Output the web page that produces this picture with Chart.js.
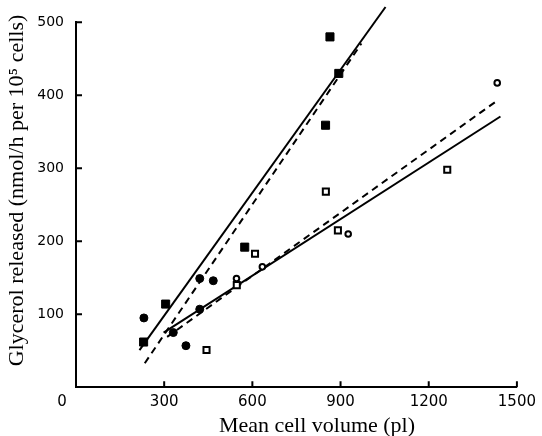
<!DOCTYPE html>
<html>
<head>
<meta charset="UTF-8">
<title>Glycerol released vs cell volume</title>
<script src="https://cdn.jsdelivr.net/npm/chart.js"></script>
<style>
  html, body { margin: 0; padding: 0; background: #fff; }
  #wrap { width: 542px; height: 436px; }
</style>
</head>
<body>
<div id="wrap"><canvas id="myChart"></canvas></div>
<script>
// filled squares
const fsqX = [230, 305, 574, 849, 864, 894];
const fsqY = [62, 114, 192, 359, 480, 430];
// filled circles
const fciX = [231, 331, 374, 421, 421, 467];
const fciY = [95, 75, 57, 107, 149, 146];
// open circles
const ociX = [546, 634, 926, 1433];
const ociY = [149, 165, 210, 417];
// open squares
const osqX = [444, 547, 609, 850, 891, 1263];
const osqY = [51, 140, 183, 268, 215, 298];

// fitted lines (end points)
const steepSolidX = [216, 1053];
const steepSolidY = [51, 521];
const steepDashX = [234, 971];
const steepDashY = [33, 471];
const flatSolidX = [298, 1444];
const flatSolidY = [75, 371];
const flatDashX = [310, 1427];
const flatDashY = [69, 391];

const xTicks = [300, 600, 900, 1200, 1500];
const yTicks = [100, 200, 300, 400, 500];

const xTitle = 'Mean cell volume (pl)';
const yTitle = 'Glycerol released (nmol/h per 10\u2075 cells)';

function pts(xs, ys) {
    return xs.map((v, i) => ({ x: v, y: ys[i] }));
}

const xTickFont = { family: 'DejaVu Sans', size: 15 };
const yTickFont = { family: 'DejaVu Sans', size: 14 };
const titleFont = '22px "Liberation Serif"';

const decor = {
    id: 'decor',
    afterDraw(chart) {
        const ctx = chart.ctx;
        const area = chart.chartArea;
        const x = chart.scales.x, y = chart.scales.y;
        ctx.save();
        // inward tick marks
        ctx.strokeStyle = '#000';
        ctx.lineWidth = 2;
        ctx.beginPath();
        for (var i = 0; i < xTicks.length; i++) {
            const px = x.getPixelForValue(xTicks[i]);
            ctx.moveTo(px, area.bottom);
            ctx.lineTo(px, area.bottom - 6);
        }
        for (var i = 0; i < yTicks.length; i++) {
            const py = y.getPixelForValue(yTicks[i]);
            ctx.moveTo(area.left, py);
            ctx.lineTo(area.left + 6, py);
        }
        ctx.stroke();
        ctx.fillStyle = '#000';
        // the shared origin label
        ctx.font = xTickFont.size + 'px ' + xTickFont.family;
        ctx.textAlign = 'center';
        ctx.textBaseline = 'middle';
        ctx.fillText('0', area.left - 14, area.bottom + 15);
        // axis titles
        ctx.font = titleFont;
        ctx.textBaseline = 'alphabetic';
        ctx.fillText(xTitle, 317, 431.5);
        ctx.translate(23, 190.5);
        ctx.rotate(-Math.PI / 2);
        ctx.fillText(yTitle, 0, 0);
        ctx.restore();
    }
};

const ctx = document.getElementById('myChart');
new Chart(ctx, {
    type: 'scatter',
    data: {
        datasets: [
            { data: pts(fsqX, fsqY), pointStyle: 'rect', pointRadius: 5.7, backgroundColor: '#000', borderColor: '#000', borderWidth: 1 },
            { data: pts(fciX, fciY), pointStyle: 'circle', pointRadius: 4, backgroundColor: '#000', borderColor: '#000', borderWidth: 1 },
            { data: pts(ociX, ociY), pointStyle: 'circle', pointRadius: 2.8, backgroundColor: '#fff', borderColor: '#000', borderWidth: 2 },
            { data: pts(osqX, osqY), pointStyle: 'rect', pointRadius: 4.3, backgroundColor: '#fff', borderColor: '#000', borderWidth: 2 },
            { type: 'line', data: pts(steepSolidX, steepSolidY), borderColor: '#000', borderWidth: 2, pointRadius: 0, clip: false },
            { type: 'line', data: pts(steepDashX, steepDashY), borderColor: '#000', borderWidth: 2, borderDash: [7, 5], pointRadius: 0, clip: false },
            { type: 'line', data: pts(flatSolidX, flatSolidY), borderColor: '#000', borderWidth: 2, pointRadius: 0, clip: false },
            { type: 'line', data: pts(flatDashX, flatDashY), borderColor: '#000', borderWidth: 2, borderDash: [7, 5], pointRadius: 0, clip: false }
        ]
    },
    options: {
        responsive: true,
        maintainAspectRatio: false,
        animation: false,
        layout: { padding: { top: 22.3, right: 21.4, left: 0, bottom: 0 } },
        plugins: { legend: { display: false }, tooltip: { enabled: false } },
        scales: {
            x: {
                type: 'linear', min: 0, max: 1500,
                afterFit: function (s) { s.height = 48.7; },
                afterBuildTicks: function (s) { s.ticks = [0].concat(xTicks).map(v => ({ value: v })); },
                grid: { display: true, drawOnChartArea: false, drawTicks: false, color: 'rgba(0,0,0,0)' },
                border: { display: true, color: '#000', width: 2 },
                ticks: { color: '#000', font: xTickFont, padding: 6, maxRotation: 0,
                    callback: function (v) { return v === 0 ? '' : String(v); } }
            },
            y: {
                type: 'linear', min: 0, max: 500,
                afterFit: function (s) { s.width = 76; },
                afterBuildTicks: function (s) { s.ticks = [0].concat(yTicks).map(v => ({ value: v })); },
                grid: { display: true, drawOnChartArea: false, drawTicks: false, color: 'rgba(0,0,0,0)' },
                border: { display: true, color: '#000', width: 2 },
                ticks: { color: '#000', font: yTickFont, padding: 12,
                    callback: function (v) { return v === 0 ? '' : String(v); } }
            }
        }
    },
    plugins: [decor]
});
</script>
</body>
</html>
